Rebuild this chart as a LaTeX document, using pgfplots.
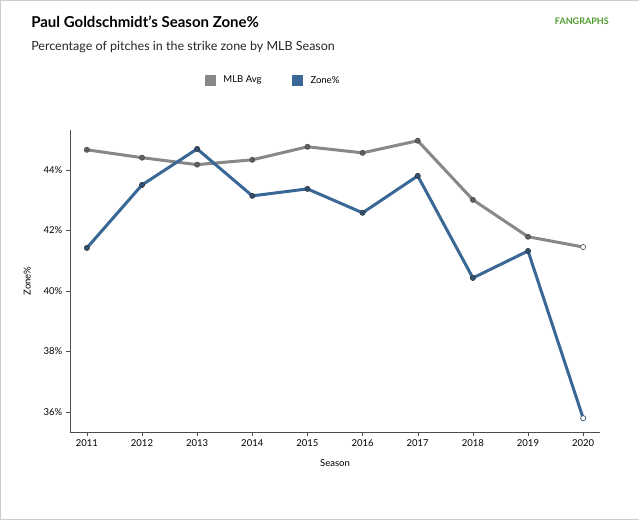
\documentclass[border=0pt]{standalone}
\usepackage{pgfplots}
\pgfplotsset{compat=1.18}
\usepackage{fontspec}
\setmainfont{Lato}
\definecolor{mlb}{HTML}{888888}
\definecolor{zone}{HTML}{3A6896}
\definecolor{fg}{HTML}{4C9A2A}
\begin{document}
\begin{tikzpicture}[x=1pt,y=1pt]
\draw[draw=black!20,fill=white] (0.5,-0.5) rectangle (638.5,-519.5);
\node[anchor=west,font=\bfseries\fontsize{15}{17}\selectfont] at (28,-22) {Paul Goldschmidt's Season Zone\%};
\node[anchor=west,font=\fontsize{12.5}{14}\selectfont,text=black!85] at (28,-47) {Percentage of pitches in the strike zone by MLB Season};
\node[anchor=east,font=\bfseries\fontsize{9}{10}\selectfont,text=fg] at (612,-22) {FANGRAPHS};
\fill[mlb] (205,-75) rectangle (216,-86);
\node[anchor=west,font=\fontsize{9.5}{11}\selectfont] at (220,-80.5) {MLB Avg};
\fill[zone] (292,-75) rectangle (303,-86);
\node[anchor=west,font=\fontsize{9.5}{11}\selectfont] at (307,-80.5) {Zone\%};
\begin{axis}[at={(70pt,-432pt)},anchor=south west,scale only axis,width=530pt,height=302pt,
 xmin=2010.69,xmax=2020.31,ymin=35.34,ymax=45.32,
 axis lines*=left,axis line style={black!70},
 xtick={2011,...,2020},ytick={36,38,40,42,44},
 xticklabel style={/pgf/number format/1000 sep={}},
 yticklabel={\pgfmathprintnumber{\tick}\%},
 /pgf/number format/assume math mode=true,
 ticklabel style={font=\fontsize{9.5}{11}\selectfont},
 tick style={black!70},tick align=outside,major tick length=4pt,
 xlabel={Season},ylabel={Zone\%},
 label style={font=\fontsize{9.5}{11}\selectfont},
 xlabel style={yshift=-6pt},ylabel style={yshift=6pt},
 clip=false]
\addplot[mlb,line width=3pt,mark=*,mark size=2.6pt,mark options={fill=mlb!70!black,draw=black!70,line width=0.6pt}] coordinates {
(2011,44.66)(2012,44.40)(2013,44.17)(2014,44.33)(2015,44.76)(2016,44.56)(2017,44.96)(2018,43.01)(2019,41.79)};
\addplot[mlb,line width=3pt] coordinates {(2019,41.79)(2020,41.45)};
\addplot[only marks,mark=*,mark size=2.6pt,mark options={fill=white,draw=black!70,line width=0.6pt}] coordinates {(2020,41.45)};
\addplot[zone,line width=3pt,mark=*,mark size=2.6pt,mark options={fill=zone!80!black,draw=black!80,line width=0.6pt}] coordinates {
(2011,41.42)(2012,43.50)(2013,44.69)(2014,43.14)(2015,43.37)(2016,42.58)(2017,43.80)(2018,40.43)(2019,41.32)};
\addplot[zone,line width=3pt] coordinates {(2019,41.32)(2020,35.80)};
\addplot[only marks,mark=*,mark size=2.6pt,mark options={fill=white,draw=zone!60!black,line width=0.6pt}] coordinates {(2020,35.80)};
\end{axis}
\end{tikzpicture}
\end{document}
